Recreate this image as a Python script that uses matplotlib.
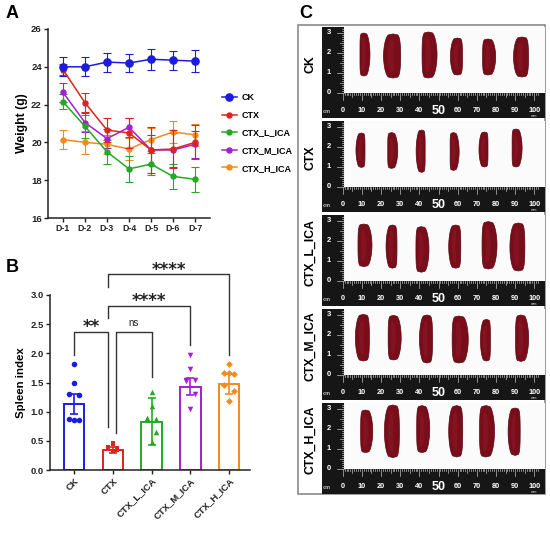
import numpy as np
import matplotlib
matplotlib.use('Agg')
import matplotlib.pyplot as plt
from matplotlib.patches import Rectangle, Polygon
from matplotlib.lines import Line2D

plt.rcParams['font.family'] = ['Liberation Sans', 'DejaVu Sans']
plt.rcParams['font.weight'] = 'bold'
plt.rcParams['axes.labelweight'] = 'bold'

# ---------------- data ----------------
groups = ['CK', 'CTX', 'CTX_L_ICA', 'CTX_M_ICA', 'CTX_H_ICA']
colors = ['#1c1ce0', '#e0231c', '#22ab22', '#a41fd0', '#f28a1e']

# A: body weight (g) per day
days = ['D-1', 'D-2', 'D-3', 'D-4', 'D-5', 'D-6', 'D-7']
weight_ck = [24.0, 24.0, 24.25, 24.2, 24.4, 24.35, 24.3]
weight_ctx = [23.85, 22.1, 20.65, 20.5, 19.6, 19.65, 20.0]
weight_l = [22.15, 20.85, 19.5, 18.6, 18.85, 18.2, 18.05]
weight_m = [22.65, 21.05, 20.2, 20.8, 19.6, 19.6, 19.9]
weight_h = [20.15, 20.0, 19.9, 19.65, 20.15, 20.55, 20.4]
err_ck = [0.5, 0.5, 0.5, 0.5, 0.55, 0.5, 0.6]
err_ctx = [0.3, 0.5, 0.65, 0.8, 1.2, 1.0, 0.9]
err_l = [0.4, 0.6, 0.65, 0.7, 0.6, 0.65, 0.65]
err_m = [0.5, 0.5, 0.5, 0.5, 0.8, 0.9, 0.7]
err_h = [0.5, 0.6, 0.5, 0.6, 0.6, 0.6, 0.6]

# B: spleen index
spleen_mean = [1.13, 0.34, 0.83, 1.43, 1.47]
spleen_err = [0.17, 0.05, 0.40, 0.15, 0.17]
pts_ck = [1.82, 1.49, 1.30, 1.29, 0.87, 0.86, 0.85]
pts_ctx = [0.46, 0.44, 0.40, 0.38, 0.36, 0.35, 0.33]
pts_l = [1.34, 1.10, 0.90, 0.88, 0.87, 0.66, 0.48]
pts_m = [1.97, 1.74, 1.55, 1.54, 1.52, 1.31, 1.04]
pts_h = [1.82, 1.67, 1.66, 1.65, 1.46, 1.35, 1.18]
# comparisons: (group a, group b, label)
comparisons = [(0, 1, '**'), (1, 2, 'ns'), (1, 3, '****'), (1, 4, '****')]

# C: spleen photos (ruler positions in mm, extents in cm, widths in mm)
spleen_x_mm = [[11, 26.3, 44.7, 59.9, 75.8, 93.6],
               [9.8, 25.5, 41.2, 57.8, 74, 90.4],
               [11, 26, 41, 59, 76, 91.7],
               [10.8, 26.5, 44, 60.7, 75, 93],
               [11.9, 26.2, 41.4, 59.5, 74.7, 90]]
spleen_top_cm = [[3.0, 2.95, 3.05, 2.75, 2.7, 2.8],
                 [2.7, 2.72, 2.85, 2.72, 2.75, 2.9],
                 [2.85, 2.8, 2.72, 2.8, 2.97, 2.9],
                 [3.03, 2.98, 3.0, 2.95, 2.78, 3.0],
                 [2.95, 3.2, 3.17, 3.17, 3.17, 3.05]]
spleen_bot_cm = [[0.85, 0.75, 0.75, 0.9, 0.9, 0.8],
                 [0.98, 0.93, 0.73, 0.83, 1.0, 1.0],
                 [0.72, 0.64, 0.44, 0.64, 0.6, 0.5],
                 [0.7, 0.75, 0.6, 0.6, 0.7, 0.68],
                 [0.82, 0.57, 0.82, 0.6, 0.6, 0.68]]
spleen_w_mm = [[5.2, 8.9, 7.8, 6.3, 6.8, 7.8],
               [4.7, 5.2, 4.7, 4.7, 4.7, 5.2],
               [7.3, 5.7, 6.8, 6.3, 7.8, 7.8],
               [7.3, 6.8, 6.8, 8.4, 5.2, 6.8],
               [6.3, 7.8, 6.8, 7.3, 7.8, 6.3]]

# ---------------- figure ----------------
fig = plt.figure(figsize=(5.5, 5.37), dpi=100)
W, H = 550, 537

def box(x0, y0, x1, y1):
    return [x0 / W, 1 - y1 / H, (x1 - x0) / W, (y1 - y0) / H]

# background canvas in pixel coords (panel C + panel letters)
bg = fig.add_axes([0, 0, 1, 1])
bg.set_xlim(0, W)
bg.set_ylim(H, 0)
bg.axis('off')

def style_axes(ax):
    for s in ['top', 'right']:
        ax.spines[s].set_visible(False)
    for s in ['left', 'bottom']:
        ax.spines[s].set_linewidth(1.1)
        ax.spines[s].set_color('#222222')
    ax.tick_params(direction='out', length=3, width=1.0, colors='#222222',
                   labelsize=6.8, pad=1.5)

# ---- A ----
axA = fig.add_axes(box(48, 29, 210, 218))
style_axes(axA)
xi = np.arange(len(days))
series = [weight_ck, weight_ctx, weight_l, weight_m, weight_h]
errs = [err_ck, err_ctx, err_l, err_m, err_h]
handles = []
for k, (yv, ev) in enumerate(zip(series, errs)):
    ms = 5.2 if k == 0 else 3.6
    axA.errorbar(xi, yv, yerr=ev, color=colors[k], marker='o', ms=ms,
                 lw=1.1, elinewidth=0.8, capsize=3, capthick=0.8,
                 zorder=3 + (4 - k) * 0.1)
    handles.append(Line2D([], [], color=colors[k], marker='o', ms=ms, lw=1.1))
axA.set_xlim(-0.68, 6.68)
axA.set_ylim(16, 26)
axA.set_yticks([16, 18, 20, 22, 24, 26])
axA.set_xticks(xi)
axA.set_xticklabels(days, fontsize=6.3)
axA.set_ylabel('Weight (g)', fontsize=8.8, labelpad=2)
leg = axA.legend(handles, groups, loc='center left', frameon=False,
                 bbox_to_anchor=(214 / W, 1 - 133 / H),
                 bbox_transform=fig.transFigure, fontsize=6.5,
                 handlelength=1.6, handletextpad=0.6, labelspacing=0.95)

# ---- B ----
axB = fig.add_axes(box(50, 295, 250, 470))
style_axes(axB)
xb = np.arange(len(groups))
axB.bar(xb, spleen_mean, width=0.53, facecolor='white',
        edgecolor=colors, linewidth=1.4, zorder=2)
for k in range(len(groups)):
    axB.errorbar(xb[k], spleen_mean[k], yerr=spleen_err[k], color=colors[k],
                 lw=1.2, capsize=3, capthick=1.2, zorder=3)
jit = [0, 0, -0.12, 0.12, -0.12, 0.12, 0]
markers = ['o', 's', '^', 'v', 'D']
sizes = [16, 12, 16, 16, 12]
all_pts = [pts_ck, pts_ctx, pts_l, pts_m, pts_h]
for k, pts in enumerate(all_pts):
    axB.scatter(xb[k] + np.array(jit), pts, marker=markers[k], s=sizes[k],
                color=colors[k], linewidths=0, zorder=4)
axB.set_xlim(-0.62, 4.54)
axB.set_ylim(0, 3.0)
axB.set_yticks(np.arange(0, 3.01, 0.5))
axB.set_yticklabels(['%.1f' % v for v in np.arange(0, 3.01, 0.5)])
axB.set_xticks(xb)
axB.set_xticklabels(groups, rotation=45, ha='right', rotation_mode='anchor',
                    fontsize=6.8)
axB.set_ylabel('Spleen index', fontsize=8.2, labelpad=3)

# significance brackets
bar_y = {(0, 1): 2.37, (1, 2): 2.37, (1, 3): 2.82, (1, 4): 3.36}
left_x = {(0, 1): 0, (1, 2): 1.08, (1, 3): 0.88, (1, 4): 0.88}
right_x = {(0, 1): 0.88, (1, 2): 2, (1, 3): 3, (1, 4): 4}
left_drop = {(0, 1): 1.97, (1, 2): 0.63, (1, 3): 2.61, (1, 4): 3.14}
right_drop = {(0, 1): 0.74, (1, 2): 1.59, (1, 3): 2.14, (1, 4): 1.97}
for a, b, lab in comparisons:
    key = (a, b)
    y = bar_y[key]
    x0, x1 = left_x[key], right_x[key]
    axB.plot([x0, x0, x1, x1], [left_drop[key], y, y, right_drop[key]],
             color='#333333', lw=1.0, clip_on=False, zorder=1)
    if lab == 'ns':
        axB.text((x0 + x1) / 2, y + 0.07, lab, ha='center', va='bottom',
                 fontsize=7, fontweight='normal', color='#222222', clip_on=False)
    else:
        axB.text((x0 + x1) / 2, y - 0.08, lab, ha='center', va='bottom',
                 fontsize=12, fontweight='bold', family='DejaVu Sans',
                 color='#222222', clip_on=False)

# ---- panel letters ----
for lab, (px, py) in zip(['A', 'B', 'C'], [(6, 14), (6, 267), (299, 13)]):
    bg.text(px, py, lab, fontsize=13, fontweight='bold', ha='left', va='center')

# ---- C: spleen photo panels ----
mm_px = 1.916
x_zero = 342.7
row_tops = [27, 121, 215, 309, 403]


def spleen_outline(cx, y_top, y_bot, w, bend):
    # elongated organ shape: blunt rounded ends, slight bend
    t = np.linspace(0, 1, 50)
    half = 0.5 * w * np.sin(np.pi * t) ** 0.22
    yy = y_top + (y_bot - y_top) * t
    mid = cx + bend * np.sin(np.pi * t)
    left = np.column_stack([mid - half, yy])
    right = np.column_stack([mid + half, yy])[::-1]
    return np.vstack([left, right])


bg.add_patch(Rectangle((298, 25), 247, 469, facecolor='white',
                       edgecolor='#8a8a8a', lw=1.2, zorder=0))
for r, top in enumerate(row_tops):
    base = top + 66
    # white photo area
    bg.add_patch(Rectangle((322, top), 223, 91, facecolor='#fbfbfb',
                           edgecolor='none', zorder=1))
    # vertical ruler
    bg.add_patch(Rectangle((322, top), 22.3, 66, facecolor='#161616',
                           edgecolor='none', zorder=2))
    for mm in range(0, 33):
        yy = base - mm * 2.0
        if yy < top + 1:
            break
        ln = 7 if mm % 10 == 0 else (4 if mm % 5 == 0 else 2.2)
        bg.plot([344.3 - ln, 344.3], [yy, yy], color='#d8d8d8', lw=0.45, zorder=3)
    for cm in range(4):
        bg.text(328.5, base - cm * 20 - 0.5, str(cm), color='white', fontsize=5.5,
                ha='center', va='center', zorder=4)
    # horizontal ruler
    bg.add_patch(Rectangle((322, base), 223, 25, facecolor='#161616',
                           edgecolor='none', zorder=2))
    for mm in range(0, 103):
        xx = x_zero + mm * mm_px
        if xx > 544:
            break
        ln = 7 if mm % 10 == 0 else (4 if mm % 5 == 0 else 2.2)
        bg.plot([xx, xx], [base, base + ln], color='#d0d0d0', lw=0.45, zorder=3)
    bg.text(327, base + 18.5, 'cm', color='#bbbbbb', fontsize=4, ha='center',
            va='center', zorder=4)
    for v in range(0, 101, 10):
        xx = x_zero + v * mm_px
        if v == 50:
            bg.text(xx, base + 17.5, '50', color='white', fontsize=9,
                    ha='center', va='center', zorder=4)
        else:
            bg.text(xx, base + 18, str(v), color='white', fontsize=5.3,
                    ha='center', va='center', zorder=4)
    bg.text(x_zero + 100 * mm_px, base + 23, 'mm', color='#aaaaaa', fontsize=2.5,
            ha='center', va='center', zorder=4)
    # spleens
    for j in range(6):
        cx = x_zero + spleen_x_mm[r][j] * mm_px
        w = spleen_w_mm[r][j] * mm_px
        y_top = base - spleen_top_cm[r][j] * 20
        y_bot = base - spleen_bot_cm[r][j] * 20
        bend = 1.2 if (r + j) % 2 == 0 else -1.0
        bg.add_patch(Polygon(spleen_outline(cx, y_top, y_bot, w, bend),
                             closed=True, facecolor='#7a0d1a',
                             edgecolor='#58060f', lw=0.5, zorder=3))
        bg.add_patch(Polygon(spleen_outline(cx - w * 0.08, y_top + 6, y_bot - 6,
                                            w * 0.35, bend),
                             closed=True, facecolor='#9c2232', edgecolor='none',
                             alpha=0.3, zorder=3.5))
    # row label
    bg.text(310, top + 37, groups[r], rotation=90, fontsize=8.8,
            fontweight='bold', ha='center', va='center', zorder=4)

fig.savefig('out.png', dpi=100)
